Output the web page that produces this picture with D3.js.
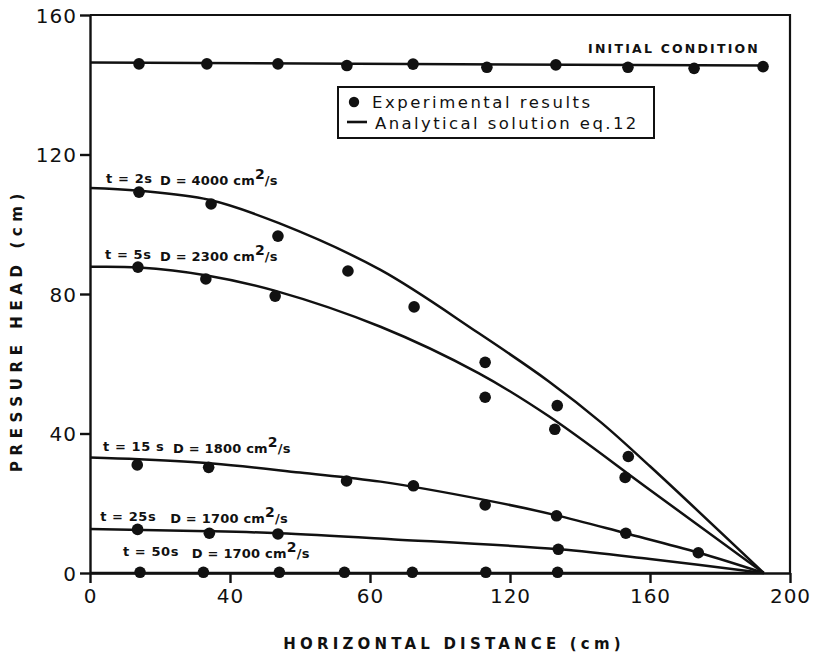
<!DOCTYPE html>
<html>
<head>
<meta charset="utf-8">
<script src="https://cdn.jsdelivr.net/npm/d3@7"></script>
<style>
  body { margin: 0; background: #fff; }
  svg { display: block; }
  text { fill: #111; font-family: "DejaVu Sans", sans-serif; }
</style>
</head>
<body>
<div id="plotDiv"></div>
<script>
// tick labels as printed (the "60" really sits at 80)
var xTickVals = [0, 40, 80, 120, 160, 200];
var xTickLabels = ["0", "40", "60", "120", "160", "200"];
var yTickVals = [0, 40, 80, 120, 160];
var yTickLabels = ["0", "40", "80", "120", "160"];

// initial condition
var initX = [14, 33.4, 53.7, 73.4, 92.3, 113.4, 133.1, 153.7, 172.6, 192.3];
var initY = [146.0, 146.0, 146.0, 145.5, 145.9, 145.0, 145.7, 145.0, 144.7, 145.2];
var initLineX = [0, 192.3];
var initLineY = [146.4, 145.5];

// experimental points
var t2X = [14, 34.6, 53.7, 73.7, 92.6, 112.9, 133.5, 153.8];
var t2Y = [109.2, 105.8, 96.6, 86.6, 76.3, 60.4, 48.0, 33.4];
var t5X = [13.7, 33.1, 52.9, 112.9, 132.8, 152.9];
var t5Y = [87.7, 84.3, 79.4, 50.4, 41.2, 27.4];
var t15X = [13.5, 33.9, 73.3, 92.4, 112.9, 133.3, 153.1, 173.8];
var t15Y = [31.0, 30.3, 26.4, 25.0, 19.5, 16.4, 11.4, 5.8];
var t25X = [13.6, 34.1, 53.7, 133.8];
var t25Y = [12.5, 11.4, 11.2, 6.8];
var t50X = [14.3, 32.4, 54.1, 72.7, 92.1, 113.1, 133.6];
var t50Y = [0.2, 0.2, 0.2, 0.2, 0.2, 0.2, 0.2];

// analytical curves
var c2X = [0, 14, 34, 54, 83, 111, 131, 146, 160, 192.5];
var c2Y = [110.4, 109.6, 107.0, 100.3, 86.9, 68.8, 55.0, 43.2, 30.6, 0];
var c5X = [0, 14, 33, 53, 83, 111, 131, 160, 192.5];
var c5Y = [87.8, 87.6, 85.4, 80.9, 70.6, 57.3, 45.0, 23.8, 0];
var c15X = [0, 14, 35, 60, 83, 113, 133, 153, 174, 192.5];
var c15Y = [33.1, 32.6, 31.4, 28.8, 26.2, 20.9, 16.6, 11.4, 5.8, 0];
var c25X = [0, 34, 54, 86, 134, 160, 192.5];
var c25Y = [12.6, 12.0, 11.4, 9.7, 6.8, 4.0, 0];
var c50X = [0, 192.5];
var c50Y = [0, 0];

var curveLabels = [
  { t: "t = 2s", d: "4000", tx: 4.6, dx: 20, y: 111.8 },
  { t: "t = 5s", d: "2300", tx: 4.3, dx: 20, y: 90.0 },
  { t: "t = 15 s", d: "1800", tx: 3.7, dx: 23.7, y: 35.0 },
  { t: "t = 25s", d: "1700", tx: 2.9, dx: 22.9, y: 14.9 },
  { t: "t = 50s", d: "1700", tx: 9.4, dx: 29.1, y: 4.9 }
];

function zip(xs, ys) { return xs.map(function(v, i) { return [v, ys[i]]; }); }

var W = 814, H = 657;
var x = d3.scaleLinear().domain([0, 200]).range([90, 790]);
var y = d3.scaleLinear().domain([0, 160]).range([573, 15]);

var svg = d3.select("#plotDiv").append("svg")
    .attr("width", W).attr("height", H);

svg.append("rect").attr("width", W).attr("height", H).attr("fill", "#fff");

var ink = "#111";

// frame top / right
svg.append("path")
    .attr("d", "M" + x(0) + "," + y(160) + "H" + x(200) + "V" + y(0))
    .attr("fill", "none").attr("stroke", ink).attr("stroke-width", 2.2);

// axes
var xAxis = svg.append("g")
    .attr("transform", "translate(0," + y(0) + ")")
    .call(d3.axisBottom(x).tickValues(xTickVals)
        .tickFormat(function(d, i) { return xTickLabels[i]; })
        .tickSize(10).tickSizeOuter(0).tickPadding(6));
var yAxis = svg.append("g")
    .attr("transform", "translate(" + x(0) + ",0)")
    .call(d3.axisLeft(y).tickValues(yTickVals)
        .tickFormat(function(d, i) { return yTickLabels[i]; })
        .tickSize(10).tickSizeOuter(0).tickPadding(3));

[xAxis, yAxis].forEach(function(g) {
  g.selectAll("path, line").attr("stroke", ink).attr("stroke-width", 2.4);
  g.selectAll("text").attr("fill", ink)
      .style("font-family", "DejaVu Sans, sans-serif")
      .style("font-size", "20px").style("letter-spacing", "1px");
});
yAxis.selectAll("text").attr("dy", "0.36em");

// axis titles
svg.append("text")
    .attr("x", 454).attr("y", 649)
    .attr("text-anchor", "middle")
    .style("font-size", "15px").style("font-weight", "bold")
    .style("letter-spacing", "4.2px")
    .text("HORIZONTAL DISTANCE (cm)");
svg.append("text")
    .attr("transform", "translate(22,330) rotate(-90)")
    .attr("text-anchor", "middle")
    .style("font-size", "15px").style("font-weight", "bold")
    .style("letter-spacing", "5.6px")
    .text("PRESSURE HEAD (cm)");

// curves
var line = d3.line()
    .x(function(d) { return x(d[0]); })
    .y(function(d) { return y(d[1]); })
    .curve(d3.curveCatmullRom.alpha(0.5));

var curves = [
  zip(initLineX, initLineY), zip(c2X, c2Y), zip(c5X, c5Y),
  zip(c15X, c15Y), zip(c25X, c25Y), zip(c50X, c50Y)
];
svg.selectAll(".curve").data(curves).enter().append("path")
    .attr("class", "curve")
    .attr("d", line)
    .attr("fill", "none").attr("stroke", ink).attr("stroke-width", 2.5);

// experimental points
var pts = [].concat(zip(initX, initY), zip(t2X, t2Y), zip(t5X, t5Y),
    zip(t15X, t15Y), zip(t25X, t25Y), zip(t50X, t50Y));
svg.selectAll(".pt").data(pts).enter().append("circle")
    .attr("class", "pt")
    .attr("cx", function(d) { return x(d[0]); })
    .attr("cy", function(d) { return y(d[1]); })
    .attr("r", 5.8).attr("fill", ink);

// curve labels
curveLabels.forEach(function(l) {
  svg.append("text")
      .attr("x", x(l.tx)).attr("y", y(l.y))
      .style("font-size", "13px").style("font-weight", "bold")
      .style("letter-spacing", "0.6px")
      .text(l.t);
  var t = svg.append("text")
      .attr("x", x(l.dx)).attr("y", y(l.y) + 2)
      .style("font-size", "13px").style("font-weight", "bold")
      .style("letter-spacing", "0.2px");
  t.append("tspan").text("D = " + l.d + " cm");
  t.append("tspan").attr("dy", -6).style("font-size", "14px").text("2");
  t.append("tspan").attr("dy", 6).text("/s");
});

// initial condition label
svg.append("text")
    .attr("x", 760).attr("y", 53)
    .attr("text-anchor", "end")
    .style("font-size", "12.5px").style("font-weight", "bold")
    .style("letter-spacing", "2.2px")
    .text("INITIAL CONDITION");

// legend
var lg = svg.append("g");
lg.append("rect")
    .attr("x", 338).attr("y", 87).attr("width", 316).attr("height", 51)
    .attr("fill", "#fff").attr("stroke", ink).attr("stroke-width", 2);
lg.append("circle").attr("cx", 354).attr("cy", 102).attr("r", 5.2).attr("fill", ink);
lg.append("line").attr("x1", 347).attr("x2", 367).attr("y1", 122).attr("y2", 122)
    .attr("stroke", ink).attr("stroke-width", 2.6);
lg.append("text").attr("x", 372).attr("y", 108)
    .style("font-size", "16.5px").style("letter-spacing", "2.5px")
    .text("Experimental results");
lg.append("text").attr("x", 375).attr("y", 129)
    .style("font-size", "16.5px").style("letter-spacing", "2.4px")
    .text("Analytical solution eq.12");
</script>
</body>
</html>
